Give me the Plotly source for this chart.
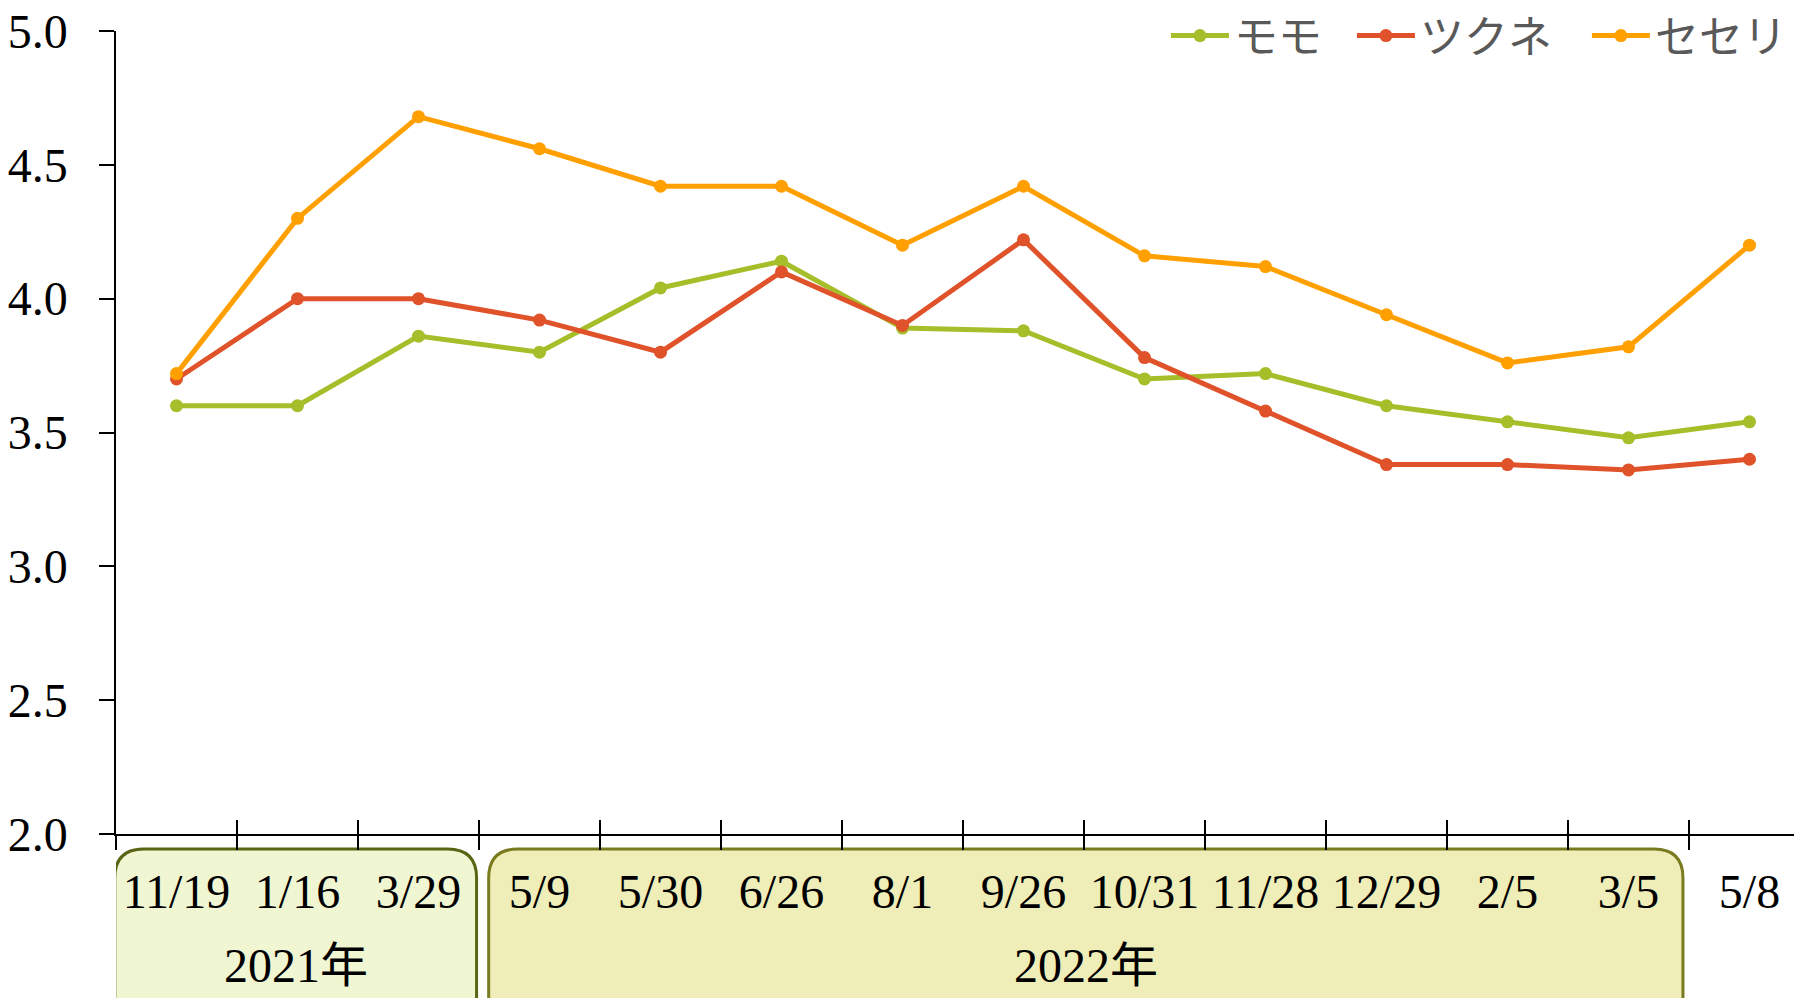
import plotly.graph_objects as go

categories = ["11/19", "1/16", "3/29", "5/9", "5/30", "6/26", "8/1", "9/26",
              "10/31", "11/28", "12/29", "2/5", "3/5", "5/8"]
momo = [3.60, 3.60, 3.86, 3.80, 4.04, 4.14, 3.89, 3.88, 3.70, 3.72, 3.60, 3.54, 3.48, 3.54]
tsukune = [3.70, 4.00, 4.00, 3.92, 3.80, 4.10, 3.90, 4.22, 3.78, 3.58, 3.38, 3.38, 3.36, 3.40]
seseri = [3.72, 4.30, 4.68, 4.56, 4.42, 4.42, 4.20, 4.42, 4.16, 4.12, 3.94, 3.76, 3.82, 4.20]
series_names = ["モモ", "ツクネ", "セセリ"]
series_colors = ["#A5BE2A", "#E0522A", "#FFA000"]
legend_widths = [113, 162, 140]
year_labels = ["2021年", "2022年"]

W, H = 1794, 998
ml, mt, mb, mr = 116, 31, 164, 0
plot_w = W - ml - mr
plot_h = H - mt - mb
cat_px = 121.0
x_right = -0.5 + plot_w / cat_px

fig = go.Figure()
for name, vals, col, lw in zip(series_names, [momo, tsukune, seseri], series_colors, legend_widths):
    fig.add_trace(go.Scatter(
        x=categories, y=vals, name=name, mode="lines+markers",
        line=dict(color=col, width=5), marker=dict(color=col, size=13),
        legendwidth=lw,
    ))

# invisible trace to carry an overlaid axis for the upward half of the x ticks
fig.add_trace(go.Scatter(x=categories, y=momo, xaxis="x2", mode="lines",
                         line=dict(width=0), opacity=0, showlegend=False,
                         hoverinfo="skip"))

# rounded year boxes
box_styles = [("#F0F5D2", "#5A6414"), ("#EFEEB8", "#7A7A1E")]
box_edges = [(-0.51, 2.48), (2.58, 12.45)]
rx = 29 / cat_px
ry = 29 / plot_h
y_top = -15 / plot_h
y_bot = -200 / plot_h
for (x0, x1), (fill, edge), lab in zip(box_edges, box_styles, year_labels):
    path = (f"M {x0+rx},{y_top} L {x1-rx},{y_top} Q {x1},{y_top} {x1},{y_top-ry} "
            f"L {x1},{y_bot+ry} Q {x1},{y_bot} {x1-rx},{y_bot} "
            f"L {x0+rx},{y_bot} Q {x0},{y_bot} {x0},{y_bot+ry} "
            f"L {x0},{y_top-ry} Q {x0},{y_top} {x0+rx},{y_top} Z")
    fig.add_shape(type="path", path=path, xref="x", yref="paper",
                  fillcolor=fill, line=dict(color=edge, width=3), layer="below")
    fig.add_annotation(x=(x0 + x1) / 2, y=-131 / plot_h, xref="x", yref="paper",
                       text=lab, showarrow=False, yanchor="middle",
                       font=dict(family="Liberation Serif, Noto Sans CJK JP", size=48, color="black"))

fig.update_layout(
    width=W, height=H,
    margin=dict(l=ml, r=mr, t=mt, b=mb, pad=0, autoexpand=False),
    paper_bgcolor="white", plot_bgcolor="white",
    font=dict(family="Liberation Serif", size=48, color="black"),
    showlegend=True,
    legend=dict(orientation="h", x=0.6257, xanchor="left", y=0.9938, yanchor="middle",
                font=dict(family="Noto Sans CJK JP", size=44, color="#595959"),
                bgcolor="rgba(0,0,0,0)", itemwidth=58, tracegroupgap=0),
    xaxis=dict(type="category", range=[-0.5, x_right], showgrid=False, automargin=False,
               showline=True, linecolor="black", linewidth=2,
               ticks="outside", ticklen=14, tickwidth=1.5, tickcolor="black",
               tickson="boundaries", ticklabelstandoff=14, ticklabeloverflow="allow",
               tickfont=dict(family="Liberation Serif", size=48, color="black"),
               zeroline=False),
    xaxis2=dict(type="category", overlaying="x", matches="x", anchor="y", side="bottom",
                showgrid=False, showline=False, ticks="inside", ticklen=14, tickwidth=1.5,
                tickcolor="black", tickson="boundaries", showticklabels=False),
    yaxis=dict(range=[2, 5], dtick=0.5, tickformat=".1f", showgrid=False, automargin=False,
               showline=True, linecolor="black", linewidth=1.5,
               ticks="outside", ticklen=15, tickwidth=1.5, tickcolor="black",
               ticklabelstandoff=22, ticklabeloverflow="allow", zeroline=False,
               tickfont=dict(family="Liberation Serif", size=48, color="black")),
)

fig.write_html("out.html", config={"displayModeBar": False},
               post_script="document.body.style.margin='0';document.body.style.overflow='hidden';")
